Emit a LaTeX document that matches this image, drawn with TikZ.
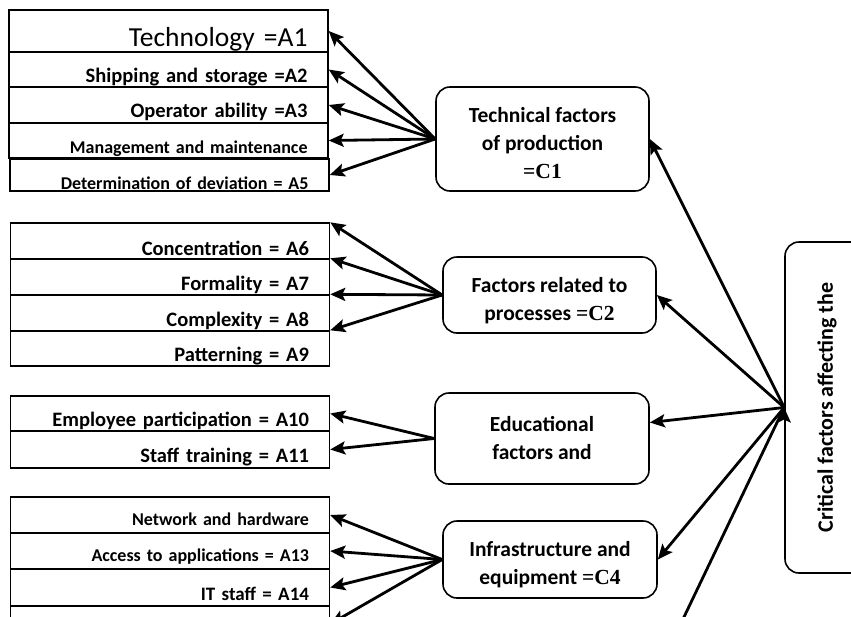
\documentclass[tikz,border=0pt]{standalone}
\usepackage{fontspec}
\setmainfont{Carlito}
\newfontfamily\tnr{Liberation Serif}
\usetikzlibrary{arrows.meta}

\begin{document}
\begin{tikzpicture}[x=1pt,y=-1pt,
  abox/.style={draw,line width=1.4pt,minimum width=319pt,text width=278pt,inner xsep=20.5pt,inner ysep=1pt,align=right,font=\bfseries\fontsize{20.5}{22}\selectfont,text height=26pt,text depth=0pt},
  smaller/.style={font=\bfseries\fontsize{18}{20}\selectfont},
  cbox/.style={draw,rounded corners=14pt,line width=1.6pt,minimum width=213pt,align=center,font=\bfseries\fontsize{21.5}{28}\selectfont},
  arr/.style={draw,line width=2.8pt,-{Stealth[length=15pt,width=13pt,inset=3pt]}}]
    \useasboundingbox (0,0) rectangle (851,616);
    \clip (0,0) rectangle (851,616);

    % sub-factors
    \node[abox,minimum height=42pt,text height=31.5pt,font=\fontsize{27.5}{30}\selectfont] (a1) at (168.5,31) {Technology =A1};
    \node[abox,minimum height=35pt,text height=25pt] (a2) at (168.5,69.5) {Shipping and storage =A2};
    \node[abox,minimum height=36pt,text height=24pt] (a3) at (168.5,105) {Operator ability =A3};
    \node[abox,minimum height=35pt,smaller] (a4) at (168.5,140.5) {Management and maintenance};
    \node[abox,minimum height=32pt,smaller,text height=28pt] (a5) at (169.5,175) {Determination of deviation = A5};

    \node[abox,minimum height=36pt,text height=28pt] (a6) at (170,241) {Concentration = A6};
    \node[abox,minimum height=36pt] (a7) at (170,277) {Formality = A7};
    \node[abox,minimum height=36pt] (a8) at (170,313) {Complexity = A8};
    \node[abox,minimum height=35pt] (a9) at (170,348.5) {Patterning = A9};

    \node[abox,minimum height=35pt,text height=25pt] (a10) at (170,413.5) {Employee participation = A10};
    \node[abox,minimum height=37pt] (a11) at (170,449.5) {Staff training = A11};

    \node[abox,minimum height=36pt,smaller,text height=20pt] (a12) at (170,515) {Network and hardware};
    \node[abox,minimum height=36pt,smaller,text height=21pt] (a13) at (170,551) {Access to applications = A13};
    \node[abox,minimum height=37pt,font=\bfseries\fontsize{19}{21}\selectfont,text height=25pt] (a14) at (170,587.5) {IT staff = A14};
    \node[abox,minimum height=36pt] (a15) at (170,624) {};

    % main factors
    \node[cbox,minimum height=104pt] (c1) at (542.5,139) {\rule{0pt}{24pt}Technical factors\\of production\\{\tnr =C1}};
    \node[cbox,minimum height=76pt] (c2) at (549.5,295) {\rule{0pt}{27pt}Factors related to\\processes {\tnr =C2}};
    \node[cbox,minimum height=91pt,minimum width=214pt] (c3) at (542,438.5) {Educational\\factors and};
    \node[cbox,minimum height=77pt,minimum width=214pt] (c4) at (550,559.5) {\rule{0pt}{26pt}Infrastructure and\\equipment {\tnr =C4}};
    \coordinate (c5) at (673,640);

    \node[draw,rounded corners=14pt,line width=1.6pt,minimum width=84pt,minimum height=331pt,font=\bfseries\fontsize{22}{24}\selectfont] (crit) at (827,407.5) {\rotatebox{90}{Critical factors affecting the}};

    \path[arr]
    (c1.west) edge (a1.east)
    (c1.west) edge (a2.east)
    (c1.west) edge (a3.east)
    (c1.west) edge (a4.east)
    (c1.west) edge (a5.east)
    (c2.west) edge (a6.north east)
    (c2.west) edge (a7.north east)
    (c2.west) edge (a8.north east)
    (c2.west) edge (a9.north east)
    (c3.west) edge (a10.east)
    (c3.west) edge (a11.east)
    (c4.west) edge (a12.east)
    (c4.west) edge (a13.east)
    (c4.west) edge (a14.east)
    (c4.west) edge (a15.east)
    (crit.west) edge (c1.east)
    (crit.west) edge (c2.east)
    (crit.west) edge ([yshift=16pt]c3.east)
    (crit.west) edge (c4.east);
    \draw[line width=2.8pt] (crit.west) -- (c5);
\end{tikzpicture}
\end{document}
